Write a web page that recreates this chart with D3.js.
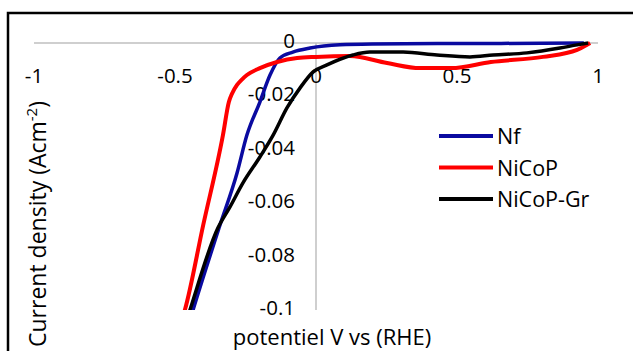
<!DOCTYPE html>
<html>
<head>
<meta charset="utf-8">
<script src="https://cdn.jsdelivr.net/npm/d3@7"></script>
<style>
  body { margin: 0; background: #fff; }
  text { font-family: "Open Sans", sans-serif; fill: #000; }
</style>
</head>
<body>
<div id="chart"></div>
<script>
// series: [potential V, current density A/cm2]
const nf = [[-0.47, -0.112], [-0.436, -0.1], [-0.344, -0.0693], [-0.28, -0.0487], [-0.245, -0.0345],
  [-0.199, -0.0221], [-0.163, -0.012], [-0.128, -0.0056], [-0.082, -0.0034], [-0.021, -0.0019],
  [0.085, -0.0007], [0.2, -0.0004], [0.5, -0.0002], [0.8, -0.0001], [0.95, 0]];
const nicop = [[-0.5, -0.111], [-0.465, -0.1], [-0.4, -0.0682], [-0.33, -0.0345], [-0.309, -0.0221],
  [-0.298, -0.0190], [-0.28, -0.0157], [-0.262, -0.0136], [-0.245, -0.012], [-0.199, -0.0094],
  [-0.138, -0.0071], [-0.067, -0.0056], [0, -0.0052], [0.12, -0.0049], [0.252, -0.0075],
  [0.369, -0.0094], [0.48, -0.0094], [0.62, -0.0071], [0.805, -0.0052], [0.926, -0.0026],
  [0.961, -0.0007], [0.972, 0]];
const nicopGr = [[-0.48, -0.111], [-0.447, -0.1], [-0.348, -0.0693], [-0.305, -0.0614], [-0.259, -0.0524],
  [-0.199, -0.0427], [-0.152, -0.0345], [-0.103, -0.0243], [-0.057, -0.0169], [-0.011, -0.0109],
  [0.039, -0.0082], [0.131, -0.0045], [0.191, -0.0034], [0.309, -0.0034], [0.429, -0.0045],
  [0.546, -0.0052], [0.628, -0.0045], [0.748, -0.0037], [0.865, -0.0019], [0.926, -0.0007], [0.965, 0]];

const seriesNames = ['Nf', 'NiCoP', 'NiCoP-Gr'];
const xTicks = [-1, -0.5, 0, 0.5, 1];
const yTicks = [0, -0.02, -0.04, -0.06, -0.08, -0.1];

const width = 633, height = 351;
const colors = ['#0a0aa0', '#ff0000', '#000000'];

const svg = d3.select('#chart').append('svg')
  .attr('width', width)
  .attr('height', height);

// outer frame (only left and top edges are inside the picture)
svg.append('rect')
  .attr('x', 8).attr('y', 13)
  .attr('width', 640).attr('height', 360)
  .style('fill', 'none')
  .style('stroke', '#000')
  .style('stroke-width', 2.5);

const x = d3.scaleLinear().domain([-1, 1]).range([34, 598]);
const y = d3.scaleLinear().domain([-0.1, 0]).range([310, 43]);

svg.append('defs').append('clipPath').attr('id', 'plot')
  .append('rect')
  .attr('x', x(-1)).attr('y', y(0) - 5)
  .attr('width', x(1) - x(-1) + 5).attr('height', y(-0.1) - y(0) + 5);

// axis lines
svg.append('line')
  .attr('x1', x(-1)).attr('x2', x(1))
  .attr('y1', y(0)).attr('y2', y(0))
  .style('stroke', '#bfbfbf').style('stroke-width', 1.5);
svg.append('line')
  .attr('x1', x(0)).attr('x2', x(0))
  .attr('y1', y(0)).attr('y2', y(-0.1))
  .style('stroke', '#bfbfbf').style('stroke-width', 1.5);

// tick labels
svg.selectAll('.xt')
  .data(xTicks)
  .enter().append('text')
  .attr('x', d => x(d))
  .attr('y', y(0) + 40)
  .attr('text-anchor', 'middle')
  .style('font-size', '20.5px')
  .text(d => d);

svg.selectAll('.yt')
  .data(yTicks)
  .enter().append('text')
  .attr('x', x(0) - 21)
  .attr('y', d => y(d) + 5)
  .attr('text-anchor', 'end')
  .style('font-size', '20.5px')
  .text(d => d);

// curves
const line = d3.line()
  .x(d => x(d[0]))
  .y(d => y(d[1]))
  .curve(d3.curveMonotoneX);

const g = svg.append('g').attr('clip-path', 'url(#plot)');
[nf, nicop, nicopGr].forEach((data, i) => {
  g.append('path')
    .datum(data)
    .attr('d', line)
    .style('fill', 'none')
    .style('stroke', colors[i])
    .style('stroke-width', i == 1 ? 4 : 3.5)
    .style('stroke-linejoin', 'round');
});

// legend
const legend = svg.selectAll('.leg')
  .data(seriesNames)
  .enter().append('g')
  .attr('transform', (d, i) => `translate(439, ${136 + i * 31.5})`);

legend.append('line')
  .attr('x1', 0).attr('x2', 54)
  .attr('y1', 0).attr('y2', 0)
  .style('stroke', (d, i) => colors[i])
  .style('stroke-width', 4);

legend.append('text')
  .attr('x', 58)
  .attr('y', 8)
  .style('font-size', '21.5px')
  .text(d => d);

// axis titles
svg.append('text')
  .attr('x', 332)
  .attr('y', 345)
  .attr('text-anchor', 'middle')
  .style('font-size', '22px')
  .text('potentiel V vs (RHE)');

const yt = svg.append('text')
  .attr('transform', 'translate(46, 224) rotate(-90)')
  .attr('text-anchor', 'middle')
  .style('font-size', '23px');
yt.append('tspan').text('Current density (Acm');
yt.append('tspan').attr('dy', -9).style('font-size', '15px').text('-2');
yt.append('tspan').attr('dy', 9).text(')');
</script>
</body>
</html>
